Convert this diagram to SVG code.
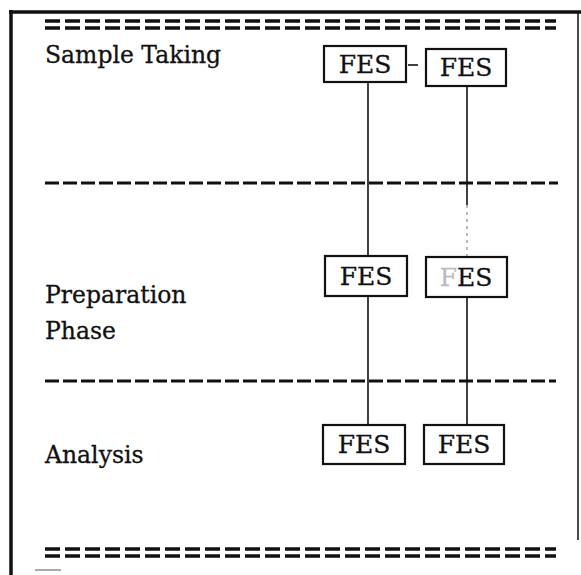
<svg xmlns="http://www.w3.org/2000/svg" width="581" height="575" viewBox="0 0 581 575">
<style>
.lbl{font-family:"DejaVu Serif","Liberation Serif",serif;font-size:23.5px;fill:#111;stroke:#111;stroke-width:0.3}
.fes{font-family:"DejaVu Serif","Liberation Serif",serif;font-size:25px;fill:#111;stroke:#111;stroke-width:0.3;text-anchor:middle}
.box{fill:#fff;stroke:#111;stroke-width:2.2}
.dbl{stroke:#111;stroke-width:3.5;stroke-dasharray:15 5;fill:none}
.dash{stroke:#111;stroke-width:3.2;stroke-dasharray:14 4;fill:none}
.conn{stroke:#111;stroke-width:1.6;fill:none}
</style>
<rect width="581" height="575" fill="#fff"/>
<g id="frame">
<line x1="11" y1="10" x2="11" y2="575" stroke="#111" stroke-width="3.5"/>
<line x1="9" y1="12" x2="581" y2="12" stroke="#111" stroke-width="3.5"/>
<line x1="578" y1="12" x2="578" y2="540" stroke="#111" stroke-width="1.5"/>
<rect x="35" y="569" width="26" height="2" fill="#aaa"/>
</g>
<g id="separators">
<line class="dbl" x1="45" y1="21" x2="556" y2="21"/>
<line class="dbl" x1="45" y1="28" x2="556" y2="28"/>
<line class="dash" x1="45" y1="183" x2="558" y2="183"/>
<line class="dash" x1="45" y1="381" x2="556" y2="381"/>
<line class="dbl" x1="45" y1="549" x2="556" y2="549"/>
<line class="dbl" x1="45" y1="556" x2="556" y2="556"/>
</g>
<g id="labels">
<text class="lbl" x="45" y="63">Sample Taking</text>
<text class="lbl" x="45" y="303">Preparation</text>
<text class="lbl" x="45" y="339">Phase</text>
<text class="lbl" x="45" y="463">Analysis</text>
</g>
<g id="connectors">
<line class="conn" x1="368" y1="82" x2="368" y2="256"/>
<line class="conn" x1="368" y1="296" x2="368" y2="425"/>
<line class="conn" x1="467" y1="86" x2="467" y2="205"/>
<line x1="467" y1="205" x2="467" y2="257" stroke="#777" stroke-width="1" stroke-dasharray="3 4"/>
<line class="conn" x1="467" y1="297" x2="467" y2="425"/>
<line class="conn" x1="408" y1="65" x2="418" y2="65"/>
</g>
<g id="fes1"><rect class="box" x="324" y="46" width="82" height="36"/><text class="fes" x="365" y="73">FES</text></g>
<g id="fes2"><rect class="box" x="426" y="49" width="80" height="37"/><text class="fes" x="466" y="76">FES</text></g>
<g id="fes3"><rect class="box" x="325" y="256" width="82" height="40"/><text class="fes" x="366" y="285">FES</text></g>
<g id="fes4"><rect class="box" x="426" y="257" width="81" height="40"/><text class="fes" x="466" y="286"><tspan fill="#bbb" stroke="#bbb">F</tspan>ES</text></g>
<g id="fes5"><rect class="box" x="323" y="425" width="82" height="39"/><text class="fes" x="364" y="453">FES</text></g>
<g id="fes6"><rect class="box" x="424" y="425" width="80" height="39"/><text class="fes" x="464" y="453">FES</text></g>
</svg>
